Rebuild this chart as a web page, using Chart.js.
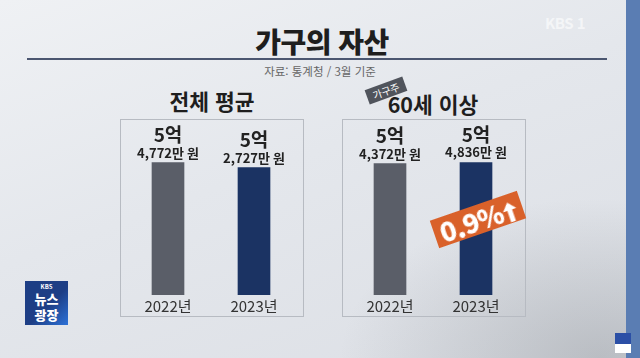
<!DOCTYPE html>
<html lang="ko">
<head>
<meta charset="utf-8">
<script src="https://cdn.jsdelivr.net/npm/chart.js@4.4.1/dist/chart.umd.min.js"></script>
<style>
  body {
    margin: 0; width: 640px; height: 358px; overflow: hidden; position: relative;
    font-family: "Noto Sans CJK KR", sans-serif; color: #222;
    background:
      radial-gradient(ellipse 260px 160px at 600px 358px, rgba(120,125,130,0.35), rgba(120,125,130,0) 100%),
      linear-gradient(160deg, #eff1f4 0%, #e4e7ec 45%, #dcdfe5 100%);
  }
  .abs { position: absolute; }
  #title { left: 222px; top: 27px; width: 200px; text-align: center; font-size: 28px; font-weight: 900; line-height: 28px; letter-spacing: -0.5px; color: #1e1e1e; }
  #rule { left: 27px; top: 58px; width: 580px; height: 2px; background: #4b5670; }
  #source { left: 220px; top: 63px; width: 200px; text-align: center; font-size: 11.5px; line-height: 16px; color: #666; }
  .head { font-size: 21.5px; font-weight: 700; line-height: 22px; text-align: center; width: 184px; color: #1e1e1e; }
  #tag { left: 366px; top: 83px; width: 40px; height: 15px; background: #50545c; color: #fff; font-size: 10px; line-height: 15px; text-align: center; transform: rotate(-20deg); }
  .box { border: 1px solid #b7bbc2; box-sizing: border-box; width: 184px; height: 198px; top: 119px; }
  canvas { position: absolute; }
  #badge { left: 432px; top: 205px; width: 92px; height: 29px; background: #d9612a; color: #fff; transform: rotate(-19deg);
    font-size: 27px; font-weight: 900; line-height: 29px; text-align: center; letter-spacing: -1px; }
  #badge svg { vertical-align: -2px; margin-left: 1px; }
  #strip { left: 626px; top: 0; width: 14px; height: 358px; background: #5a7db3; }
  #kbs1 { left: 545px; top: 12px; font-size: 15px; font-weight: 700; color: rgba(255,255,255,0.6); letter-spacing: -0.5px; }
  #logo { left: 25px; top: 281px; width: 43px; height: 44px; background: linear-gradient(135deg, #1d3e85 55%, #2d72d8 100%); color: #fff; text-align: center; }
  #logo .k { font-size: 6px; font-weight: 700; line-height: 8px; padding-top: 2px; }
  #logo .n { font-size: 13px; font-weight: 900; line-height: 16px; }
  #sub { left: 615px; top: 333px; width: 16px; height: 20px; background: #fff; }
  #sub div { height: 11px; background: #2b4fa6; }
</style>
</head>
<body>
<div id="strip" class="abs"></div>
<div id="kbs1" class="abs">KBS 1</div>
<div id="title" class="abs">가구의 자산</div>
<div id="rule" class="abs"></div>
<div id="source" class="abs">자료: 통계청 / 3월 기준</div>
<div class="abs head" style="left:120px;top:90px">전체 평균</div>
<div class="abs head" style="left:341px;top:93px">60세 이상</div>
<div id="tag" class="abs">가구주</div>
<div class="abs box" style="left:120px"></div>
<div class="abs box" style="left:342px"></div>
<canvas id="allChart" width="184" height="198" style="left:120px;top:119px"></canvas>
<canvas id="seniorChart" width="184" height="198" style="left:342px;top:119px"></canvas>
<div id="badge" class="abs"></div>
<div id="logo" class="abs"><div class="k">KBS</div><div class="n">뉴스</div><div class="n">광장</div></div>
<div id="sub" class="abs"><div></div></div>
<script>
// data (만 원)
var years = ["2022년", "2023년"];
var allAverage = [54772, 52727];
var seniorAverage = [54372, 54836];
var barColors = ["#5a5e68", "#1b3363"];

Chart.defaults.font.family = '"Noto Sans CJK KR", sans-serif';

function eok(v) { return Math.floor(v / 10000) + "억"; }
function man(v) { return (v % 10000).toLocaleString("en-US") + "만 원"; }

// value labels over the bars
var valueLabels = {
  id: "valueLabels",
  afterDatasetsDraw: function (chart) {
    var ctx = chart.ctx;
    var data = chart.data.datasets[0].data;
    chart.getDatasetMeta(0).data.forEach(function (bar, i) {
      ctx.save();
      ctx.fillStyle = "#222";
      ctx.textAlign = "center";
      ctx.textBaseline = "middle";
      ctx.font = 'bold 19px "Noto Sans CJK KR"';
      ctx.fillText(eok(data[i]), bar.x, bar.y - 28);
      ctx.font = 'bold 13px "Noto Sans CJK KR"';
      ctx.fillText(man(data[i]), bar.x, bar.y - 10);
      ctx.restore();
    });
  }
};

function createBarChart(id, values) {
  new Chart(id, {
    type: "bar",
    data: {
      labels: years,
      datasets: [{
        data: values,
        backgroundColor: barColors,
        barThickness: 32
      }]
    },
    options: {
      responsive: false,
      animation: false,
      layout: { padding: { left: 5, right: 7, top: 31, bottom: 0 } },
      plugins: { legend: { display: false }, tooltip: { enabled: false } },
      scales: {
        x: {
          grid: { display: false, drawTicks: false },
          border: { display: false },
          ticks: { color: "#333", font: { size: 15 }, padding: 2 }
        },
        y: { display: false, min: 0, max: 60000 }
      }
    },
    plugins: [valueLabels]
  });
}

createBarChart("allChart", allAverage);
createBarChart("seniorChart", seniorAverage);

// change badge
var change = ((seniorAverage[1] - seniorAverage[0]) / seniorAverage[0] * 100).toFixed(1);
document.getElementById("badge").innerHTML = change + '%<svg width="14" height="20" viewBox="0 0 14 20"><path d="M7 0 L14 8 L9.5 8 L9.5 20 L4.5 20 L4.5 8 L0 8 Z" fill="#fff"/></svg>';
</script>
</body>
</html>
